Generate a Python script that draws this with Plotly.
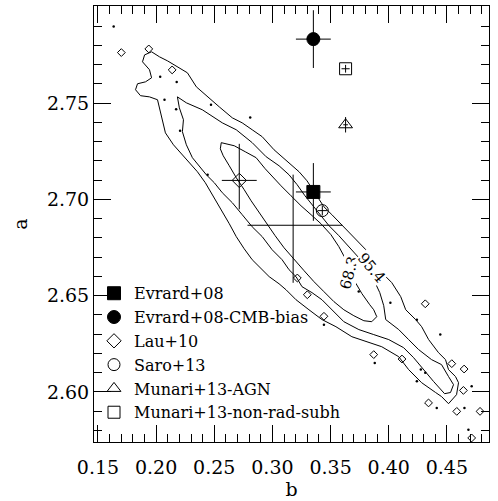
import plotly.graph_objects as go

# ---------------- data ----------------
# outer contour (closed path)
c99_b = [0.1883,0.1901,0.1961,0.2029,0.2098,0.2175,0.2269,0.2346,0.2440,0.2543,0.2655,0.2740,0.2826,0.2912,0.3014,0.3083,0.3143,0.3229,0.3297,0.3357,0.3400,0.3443,0.3511,0.3571,0.3631,0.3717,0.3803,0.3871,0.3940,0.4026,0.4103,0.4146,0.4231,0.4283,0.4343,0.4428,0.4488,0.4514,0.4574,0.4600,0.4583,0.4514,0.4454,0.4403,0.4283,0.4171,0.4086,0.3940,0.3829,0.3683,0.3546,0.3426,0.3314,0.3203,0.3117,0.3057,0.2972,0.2903,0.2826,0.2757,0.2689,0.2629,0.2560,0.2492,0.2423,0.2355,0.2286,0.2218,0.2149,0.2080,0.2046,0.2012,0.1943,0.1866,0.1823,0.1840,0.1909,0.1961,0.1943,0.1883]
c99_a = [2.7715,2.7751,2.7767,2.7741,2.7720,2.7694,2.7658,2.7585,2.7533,2.7481,2.7424,2.7398,2.7362,2.7326,2.7258,2.7222,2.7191,2.7144,2.7097,2.7040,2.6999,2.6962,2.6921,2.6884,2.6843,2.6791,2.6739,2.6677,2.6620,2.6568,2.6495,2.6427,2.6376,2.6339,2.6272,2.6204,2.6168,2.6116,2.6080,2.6048,2.5986,2.5939,2.5976,2.5997,2.6048,2.6116,2.6183,2.6235,2.6256,2.6287,2.6339,2.6376,2.6427,2.6479,2.6531,2.6562,2.6599,2.6640,2.6687,2.6744,2.6807,2.6874,2.6947,2.7014,2.7087,2.7144,2.7191,2.7232,2.7284,2.7346,2.7430,2.7518,2.7533,2.7539,2.7570,2.7601,2.7611,2.7632,2.7674,2.7715]

# 95.4 per cent contour
c954_b = [0.2183,0.2260,0.2397,0.2569,0.2689,0.2826,0.2946,0.3057,0.3143,0.3212,0.3280,0.3349,0.3417,0.3486,0.3571,0.3657,0.3743,0.3811,0.3871,0.3923,0.3957,0.3974,0.4086,0.4171,0.4257,0.4368,0.4454,0.4514,0.4557,0.4531,0.4480,0.4386,0.4300,0.4214,0.4128,0.4000,0.3871,0.3743,0.3614,0.3511,0.3426,0.3340,0.3254,0.3203,0.3143,0.3083,0.2997,0.2912,0.2826,0.2740,0.2655,0.2569,0.2500,0.2432,0.2372,0.2312,0.2260,0.2226,0.2235,0.2200,0.2183]
c954_a = [2.7533,2.7502,2.7466,2.7398,2.7362,2.7295,2.7222,2.7175,2.7128,2.7077,2.7019,2.6967,2.6916,2.6864,2.6812,2.6755,2.6697,2.6646,2.6583,2.6516,2.6448,2.6376,2.6324,2.6272,2.6220,2.6168,2.6142,2.6080,2.6038,2.5997,2.5991,2.6054,2.6116,2.6178,2.6230,2.6272,2.6298,2.6324,2.6365,2.6427,2.6479,2.6516,2.6547,2.6599,2.6635,2.6687,2.6739,2.6807,2.6858,2.6921,2.6983,2.7035,2.7087,2.7128,2.7170,2.7217,2.7284,2.7352,2.7414,2.7476,2.7533]

# 68.3 per cent contour
c683_b = [0.2560,0.2672,0.2766,0.2860,0.2937,0.3006,0.3074,0.3160,0.3246,0.3332,0.3417,0.3503,0.3571,0.3623,0.3657,0.3709,0.3769,0.3837,0.3871,0.3897,0.3854,0.3786,0.3700,0.3614,0.3529,0.3443,0.3357,0.3272,0.3186,0.3100,0.3023,0.2946,0.2877,0.2817,0.2757,0.2689,0.2629,0.2577,0.2552,0.2560]
c683_a = [2.7295,2.7279,2.7248,2.7217,2.7160,2.7113,2.7071,2.7019,2.6967,2.6921,2.6874,2.6817,2.6755,2.6697,2.6635,2.6573,2.6511,2.6453,2.6427,2.6391,2.6365,2.6370,2.6396,2.6427,2.6469,2.6521,2.6573,2.6630,2.6687,2.6749,2.6812,2.6879,2.6936,2.6993,2.7051,2.7113,2.7175,2.7227,2.7263,2.7295]

# isolated contour islands
isl_b = [0.1701,0.1937,0.2138,0.3214,0.3300,0.3443,0.4314,0.3871,0.4114,0.4542,0.4648,0.4642,0.4342,0.4585,0.4785,0.4713]
isl_a = [2.7763,2.7782,2.7673,2.6592,2.6505,2.6393,2.6458,2.6194,2.6171,2.6147,2.6119,2.6008,2.5943,2.5899,2.5899,2.5761]
dot_b = [0.1635,0.2035,0.2177,0.2072,0.2172,0.2206,0.2472,0.2809,0.2443,0.3443,0.3742,0.4014,0.4443,0.3880,0.4276,0.4314,0.4242,0.4713,0.4413,0.4651,0.4685,0.4242]
dot_a = [2.7898,2.7637,2.7610,2.7518,2.7469,2.7357,2.7492,2.7426,2.7128,2.6349,2.6522,2.6464,2.6298,2.6151,2.6116,2.6100,2.6055,2.6029,2.5917,2.5917,2.5804,2.6375]

# literature points: b, a, b-error, a-error(+), a-error(-)
names = ["Evrard+08", "Evrard+08-CMB-bias", "Lau+10", "Saro+13",
         "Munari+13-AGN", "Munari+13-non-rad-subh"]
pt_b = [0.3352, 0.3352, 0.2715, 0.3429, 0.3629, 0.3629]
pt_a = [2.7039, 2.7833, 2.7099, 2.6942, 2.7388, 2.7679]
pt_eb = [0.015, 0.015, 0.015, 0.004, 0.002, 0.0035]
pt_ea_p = [0.015, 0.015, 0.019, 0.0025, 0.004, 0.002]
pt_ea_m = [0.015, 0.015, 0.015, 0.0025, 0.004, 0.002]
symbols = ["square", "circle", "diamond-open", "circle-open",
           "triangle-up-open", "square-open"]
sizes = [13, 13, 11, 12, 12, 12]

# best-fit cross (no marker)
fit_b = [0.3178]
fit_a = [2.6866]
fit_eb_p = [0.0423]
fit_eb_m = [0.0392]
fit_ea_p = [0.0263]
fit_ea_m = [0.0299]

# contour labels
lab_text = ["68.3", "95.4"]
lab_b = [0.3657, 0.3855]
lab_a = [2.6620, 2.6646]
lab_angle = [-75, 50]

# ---------------- figure ----------------
FONT = "DejaVu Serif"
fig = go.Figure()
for xs, ys in [(c99_b, c99_a), (c954_b, c954_a), (c683_b, c683_a)]:
    fig.add_trace(go.Scatter(x=xs, y=ys, mode="lines",
                             line=dict(color="black", width=1),
                             showlegend=False, hoverinfo="skip"))
fig.add_trace(go.Scatter(x=isl_b, y=isl_a, mode="markers", showlegend=False,
                         marker=dict(symbol="diamond-open", size=6, color="black",
                                     line=dict(width=1, color="black"))))
fig.add_trace(go.Scatter(x=dot_b, y=dot_a, mode="markers", showlegend=False,
                         marker=dict(symbol="circle", size=2.5, color="black")))

fig.add_trace(go.Scatter(
    x=fit_b, y=fit_a, mode="markers", showlegend=False,
    marker=dict(size=1, color="rgba(0,0,0,0)"),
    error_x=dict(type="data", array=fit_eb_p, arrayminus=fit_eb_m, width=0, thickness=1, color="black"),
    error_y=dict(type="data", array=fit_ea_p, arrayminus=fit_ea_m, width=0, thickness=1, color="black")))

for i, n in enumerate(names):
    fig.add_trace(go.Scatter(
        x=[pt_b[i]], y=[pt_a[i]], mode="markers", name=n,
        marker=dict(symbol=symbols[i], size=sizes[i], color="black",
                    line=dict(width=1, color="black")),
        error_x=dict(type="data", array=[pt_eb[i]], width=0, thickness=1, color="black"),
        error_y=dict(type="data", array=[pt_ea_p[i]], arrayminus=[pt_ea_m[i]],
                     width=0, thickness=1, color="black")))

for t, xb, ya, ang in zip(lab_text, lab_b, lab_a, lab_angle):
    fig.add_annotation(x=xb, y=ya, text=t, showarrow=False, textangle=ang,
                       bgcolor="white", borderpad=0,
                       font=dict(family=FONT, size=15, color="black"))

axis_common = dict(showline=True, linecolor="black", linewidth=1, mirror="allticks",
                   ticks="inside", ticklen=17, tickwidth=1, tickcolor="black",
                   showgrid=False, zeroline=False,
                   minor=dict(ticks="inside", ticklen=8, tickwidth=1, tickcolor="black",
                              dtick=0.01, showgrid=False),
                   tickfont=dict(family=FONT, size=19, color="black"))

fig.update_xaxes(range=[0.1466, 0.4862], tick0=0.15, dtick=0.05, tickformat=".2f",
                 title=dict(text="b", font=dict(family=FONT, size=19), standoff=2),
                 ticklabelstandoff=8, **axis_common)
fig.update_yaxes(range=[2.574, 2.8005], tick0=2.60, dtick=0.05, tickformat=".2f",
                 title=dict(text="a", font=dict(family=FONT, size=19), standoff=14),
                 ticklabelstandoff=0, **axis_common)

fig.update_layout(
    width=498, height=501,
    margin=dict(l=94, r=9, t=6, b=59),
    plot_bgcolor="white", paper_bgcolor="white",
    font=dict(family=FONT, color="black"),
    legend=dict(x=0.0, y=0.38, xanchor="left", yanchor="top",
                bgcolor="rgba(0,0,0,0)", font=dict(family=FONT, size=16),
                itemwidth=30, tracegroupgap=0),
)

fig.write_html("out.html")
